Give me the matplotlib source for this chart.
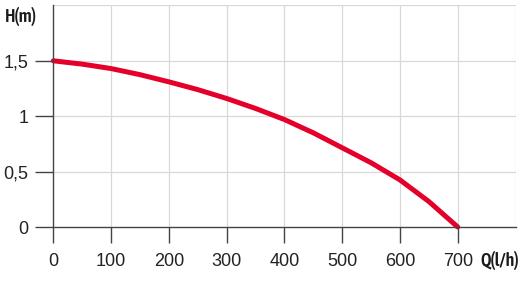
import matplotlib
matplotlib.use("Agg")
import matplotlib.pyplot as plt

flow = [0, 50, 100, 150, 200, 250, 300, 350, 400, 450, 500, 550, 600, 650, 700]
head = [1.5, 1.47, 1.43, 1.375, 1.31, 1.24, 1.16, 1.07, 0.97, 0.85, 0.715, 0.58, 0.425, 0.23, 0.0]

x_ticks = [0, 100, 200, 300, 400, 500, 600, 700]
x_tick_labels = ["0", "100", "200", "300", "400", "500", "600", "700"]
y_ticks = [0, 0.5, 1.0, 1.5]
y_tick_labels = ["0", "0,5", "1", "1,5"]
x_grid = [100, 200, 300, 400, 500, 600, 700, 800]
y_grid = [0.5, 1.0, 1.5, 2.0]

W, H = 524, 286
fig = plt.figure(figsize=(W / 100, H / 100), dpi=100)
x0, x1 = 53.3, 515.5
y0, y1 = 227.0, 5.4
ax = fig.add_axes([x0 / W, 1 - y0 / H, (x1 - x0) / W, (y0 - y1) / H])

for gx in x_grid:
    ax.axvline(gx, color="#d8d8d8", lw=0.9, zorder=1)
for gy in y_grid:
    ax.axhline(gy, color="#d8d8d8", lw=0.9, zorder=1)

ax.plot(flow, head, color="#e4002b", lw=3.6, solid_capstyle="round",
        solid_joinstyle="round", zorder=3, clip_on=False)

ax.set_xlim(0, 800)
ax.set_ylim(0, 2.0)
ax.set_xticks(x_ticks)
ax.set_xticklabels(x_tick_labels)
ax.set_yticks(y_ticks)
ax.set_yticklabels(y_tick_labels)

for s in ["top", "right"]:
    ax.spines[s].set_visible(False)
for s in ["left", "bottom"]:
    ax.spines[s].set_color("#444444")
    ax.spines[s].set_linewidth(1.0)
    ax.spines[s].set_zorder(4)

ax.tick_params(axis="x", direction="out", length=11.5, width=1.0, color="#444444",
               pad=7, labelsize=13, labelcolor="#222222")
ax.tick_params(axis="y", direction="out", length=13, width=1.0, color="#444444",
               pad=5, labelsize=13, labelcolor="#222222")
for lab in ax.get_xticklabels() + ax.get_yticklabels():
    lab.set_fontfamily("Liberation Sans")

narrow = ["Asap Condensed", "Archivo Narrow", "Liberation Sans"]
fig.text(5 / W, 1 - 16 / H, "H(m)", fontsize=13, family=narrow, fontweight=600,
         color="#1a1a1a", ha="left", va="center")
fig.text(519 / W, 1 - 260 / H, "Q(l/h)", fontsize=13, family=narrow, fontweight=600,
         color="#1a1a1a", ha="right", va="center")

fig.savefig("out.png", dpi=100)
